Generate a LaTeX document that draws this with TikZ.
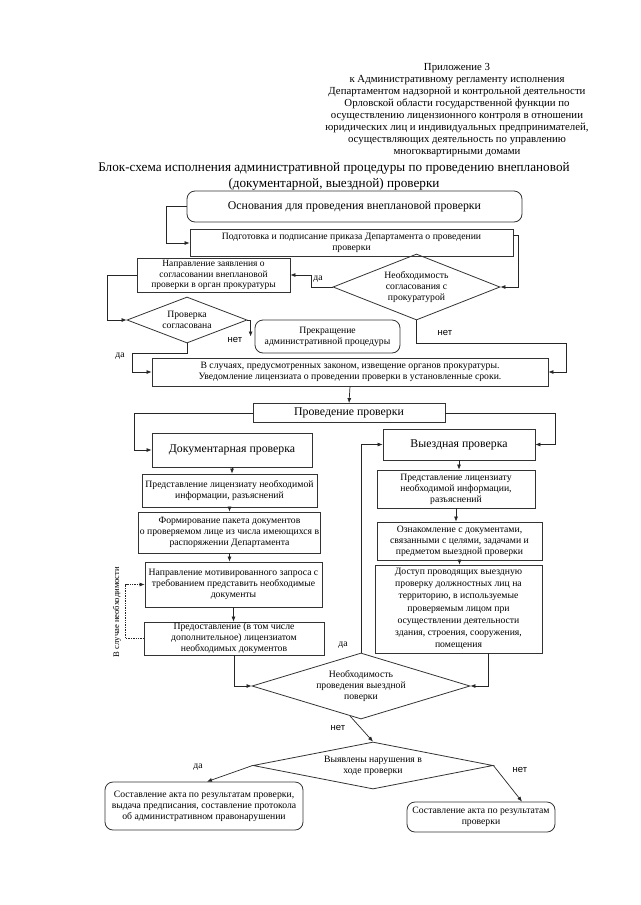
\documentclass[tikz,border=0pt]{standalone}
\usepackage{fontspec}
\setmainfont{Liberation Serif}
\newfontfamily\sansru{Liberation Sans}
\usetikzlibrary{shapes.geometric,arrows.meta}

\newcommand{\fhead}{\fontsize{10.8}{12}\selectfont}
\newcommand{\ftitle}{\fontsize{13.2}{16}\selectfont}
\newcommand{\fbig}{\fontsize{11.8}{14}\selectfont}
\newcommand{\fsml}{\fontsize{9.7}{11}\selectfont}

\begin{document}
\begin{tikzpicture}[x=1pt,y=-1pt,
    box/.style={draw=black!80,line width=0.8pt,rectangle,align=center,inner sep=1pt,font=\fsml},
    rbox/.style={box,rounded corners=8pt},
    dec/.style={draw=black!80,line width=0.8pt,diamond,align=center,inner sep=0pt,font=\fsml},
    arr/.style={-{Latex[length=5pt,width=4pt]},draw=black!85,line width=0.7pt},
    lbl/.style={inner sep=1pt,font=\fsml},
    nolbl/.style={inner sep=1pt,font=\sansru\fontsize{9.5}{11}\selectfont}]
    \useasboundingbox (0,0) rectangle (640,905);

    % header
    \node[align=center,font=\fhead] (app) at (457,110) {Приложение 3\\
        к Административному регламенту исполнения\\
        Департаментом надзорной и контрольной деятельности\\
        Орловской области государственной функции по\\
        осуществлению лицензионного контроля в отношении\\
        юридических лиц и индивидуальных предпринимателей,\\
        осуществляющих деятельность по управлению\\
        многоквартирными домами};
    \node[align=center,font=\ftitle] (ttl) at (334,176) {Блок-схема исполнения административной процедуры по проведению внеплановой\\
        (документарной, выездной) проверки};

    % upper part
    \node[rbox,font=\fbig,minimum width=335,minimum height=31] (osn) at (354.5,206.5) {Основания для проведения внеплановой проверки};
    \node[box,minimum width=323,minimum height=27] (podg) at (351.5,243) {Подготовка и подписание приказа Департамента о проведении\\проверки};
    \node[box,minimum width=153,minimum height=34,font=\fontsize{9.5}{10.4}\selectfont] (napr) at (213.5,275) {Направление заявления о\\согласовании внеплановой\\проверки в орган прокуратуры};
    \node[dec,aspect=2.5,minimum width=167,minimum height=66] (dsogl) at (416.5,287) {Необходимость\\согласования с\\прокуратурой};
    \node[dec,aspect=2.6,minimum width=120,minimum height=46] (dprov) at (187,320) {Проверка\\согласована};
    \node[rbox,minimum width=145,minimum height=33] (prekr) at (327.5,336.5) {Прекращение\\административной процедуры};
    \node[box,minimum width=396,minimum height=28] (izv) at (350,372) {В случаях, предусмотренных законом, извещение органов прокуратуры.\\Уведомление лицензиата о проведении проверки в установленные сроки.};
    \node[box,font=\fbig,minimum width=192,minimum height=19] (provd) at (349,413) {Проведение проверки};

    % documentary branch
    \node[box,font=\fbig,minimum width=160,minimum height=34] (dok) at (232,450) {Документарная проверка};
    \node[box,minimum width=175,minimum height=33] (pred1) at (229.5,490.5) {Представление лицензиату необходимой\\информации, разъяснений};
    \node[box,minimum width=175,minimum height=41] (form) at (229.5,532.5) {Формирование пакета документов\\о проверяемом лице из числа имеющихся в\\распоряжении Департамента};
    \node[box,minimum width=177,minimum height=45] (napm) at (233.5,584.5) {Направление мотивированного запроса с\\требованием представить необходимые\\документы};
    \node[box,minimum width=180,minimum height=33] (predl) at (234,638.5) {Предоставление (в том числе\\дополнительное) лицензиатом\\необходимых документов};
    \node[lbl,rotate=90,font=\fontsize{8.6}{10}\selectfont] (need) at (117,612) {В случае необходимости};

    % field branch
    \node[box,font=\fbig,minimum width=152,minimum height=31] (vyezd) at (459,444.5) {Выездная проверка};
    \node[box,minimum width=158,minimum height=38] (pred2) at (456,489) {Представление лицензиату\\необходимой информации,\\разъяснений};
    \node[box,minimum width=165,minimum height=38] (ozn) at (459.5,541) {Ознакомление с документами,\\связанными с целями, задачами и\\предметом выездной проверки};
    \node[box,minimum width=167,minimum height=88,font=\fontsize{9.7}{12.2}\selectfont] (dost) at (458.5,609) {Доступ проводящих выездную\\проверку должностных лиц на\\территорию, в используемые\\проверяемым лицом при\\осуществлении деятельности\\здания, строения, сооружения,\\помещения};

    % lower part
    \node[dec,aspect=3.3,minimum width=218,minimum height=66] (dvyezd) at (361,686) {Необходимость\\проведения выездной\\поверки};
    \node[dec,aspect=5,minimum width=240,minimum height=47] (dnar) at (373,765.5) {Выявлены нарушения в\\ходе проверки};
    \node[rbox,minimum width=198,minimum height=48] (akt1) at (204,806) {Составление акта по результатам проверки,\\выдача предписания, составление протокола\\об административном правонарушении};
    \node[rbox,minimum width=148,minimum height=30] (akt2) at (481,817) {Составление акта по результатам\\проверки};

    % connectors
    \draw[arr] (osn.west) -- ++(-20,0) |- (podg.west);
    \draw[arr] ([yshift=8pt]podg.east) -- ++(5,0) |- (dsogl.east);
    \draw[arr] (dsogl.west) -- ++(-21,0) |- (napr.east);
    \draw[arr] (napr.west) -- ++(-29,0) |- (dprov.west);
    \draw[arr] (dprov.east) -| ([xshift=-4pt]prekr.west);
    \draw[arr] (dprov.south) |- ++(-55,10) |- (izv.west);
    \draw[arr] (dsogl.south) |- ++(150,23) |- (izv.east);
    \draw[arr] (izv.south) -- (provd.north);
    \draw[arr] (provd.west) -- ++(-118,0) |- (dok.west);
    \draw[arr] (provd.east) -- ++(110,0) |- (vyezd.east);
    \draw[arr] (dok.south) -- (dok.south |- pred1.north);
    \draw[arr] (pred1.south) -- (pred1.south |- form.north);
    \draw[arr] (form.south) -- (form.south |- napm.north);
    \draw[arr] (napm.south) -- (napm.south |- predl.north);
    \draw[arr,densely dotted] (predl.west) -- ++(-18,0) |- (napm.west);
    \draw[arr] (predl.south) |- (dvyezd.west);
    \draw[arr] (vyezd.south) -- (vyezd.south |- pred2.north);
    \draw[arr] (pred2.south) -- (pred2.south |- ozn.north);
    \draw[arr] (ozn.south) -- (ozn.south |- dost.north);
    \draw[arr] ([xshift=30pt]dost.south) |- (dvyezd.east);
    \draw[arr] (dvyezd.north) |- (vyezd.west);
    \draw[arr] (dvyezd.-110) -- (dnar.north);
    \draw[arr] (dnar.west) -- ([xshift=3pt]akt1.north);
    \draw[arr] (dnar.east) -- ([xshift=41pt]akt2.north);

    % branch labels
    \node[lbl] (l1) at (318,279) {да};
    \node[nolbl] (l2) at (235,340) {нет};
    \node[lbl] (l3) at (120,356) {да};
    \node[nolbl] (l4) at (445,333) {нет};
    \node[lbl] (l5) at (343,645) {да};
    \node[nolbl] (l6) at (338,728) {нет};
    \node[lbl] (l7) at (198,767) {да};
    \node[nolbl] (l8) at (520,770) {нет};
\end{tikzpicture}
\end{document}
